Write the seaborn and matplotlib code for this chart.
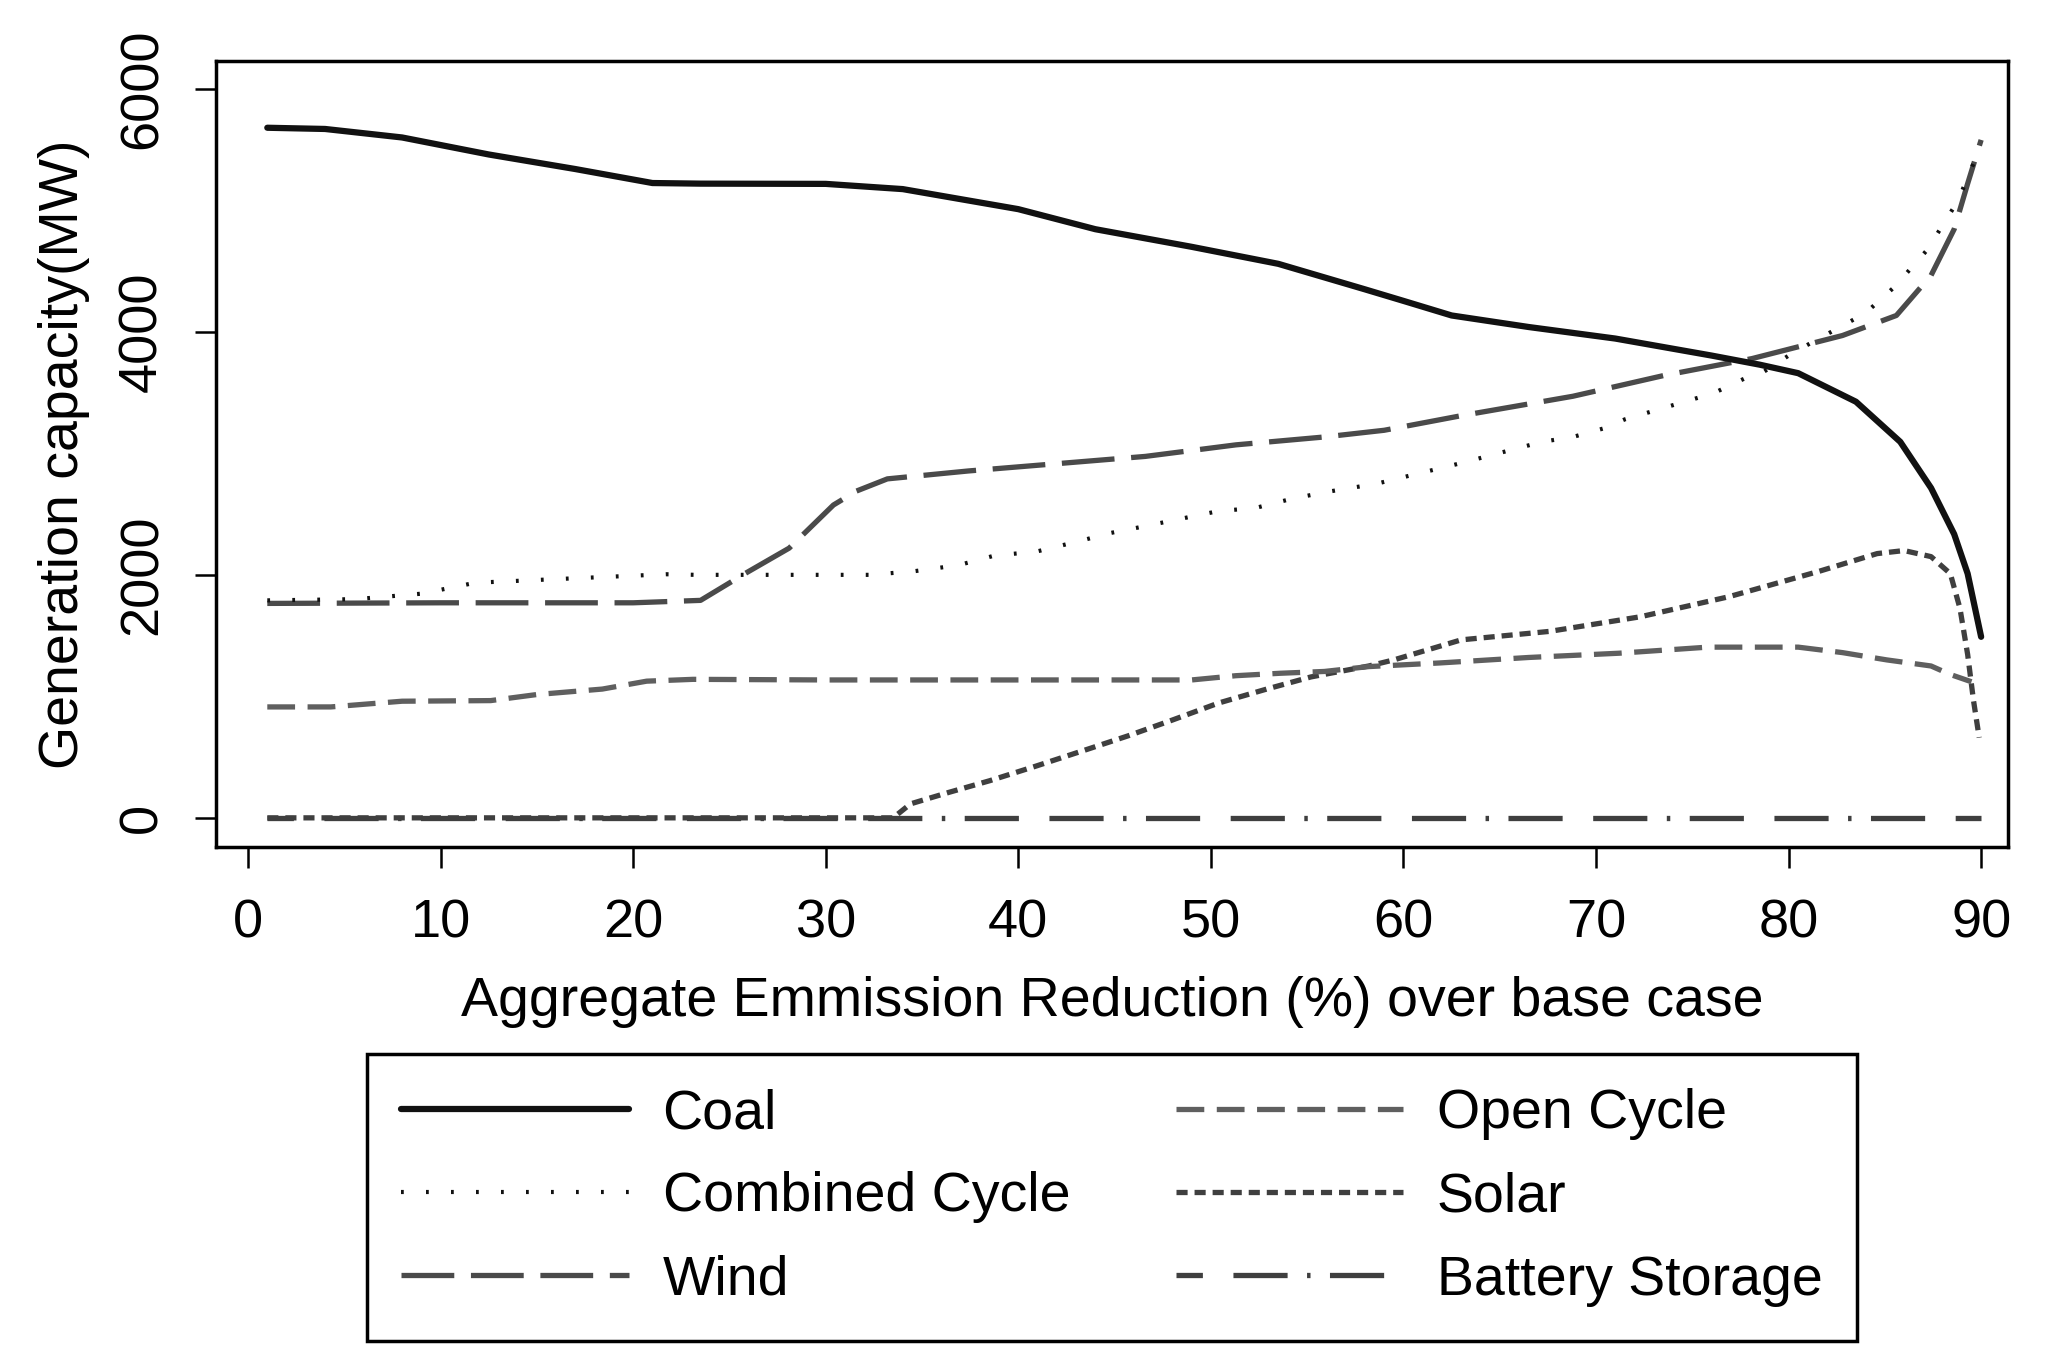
import matplotlib
matplotlib.use('Agg')
import matplotlib.pyplot as plt
import pandas as pd
import seaborn as sns

sns.set_style('ticks')
plt.rcParams['font.family'] = ['Liberation Sans', 'DejaVu Sans']
plt.rcParams['lines.scale_dashes'] = False
plt.rcParams['text.color'] = 'black'
plt.rcParams['xtick.color'] = 'black'
plt.rcParams['ytick.color'] = 'black'
plt.rcParams['axes.labelcolor'] = 'black'

# values (x = emission reduction %, y = MW)
coal_x = [1, 4, 8, 12.5, 17, 21, 23.5, 30, 34, 40, 44, 49, 53.5, 58, 60, 62.5,
          66.5, 71, 76, 78.5, 80.5, 83.5, 85.8, 87.4, 88.6, 89.3, 90]
coal_y = [5680, 5670, 5600, 5460, 5340, 5225, 5220, 5218, 5175, 5010, 4845, 4700,
          4560, 4350, 4255, 4135, 4040, 3945, 3805, 3730, 3660, 3425, 3095, 2715,
          2335, 2010, 1490]

cc_x = [1, 5.6, 9, 11.8, 16, 21.7, 23.3, 27.4, 32.3, 34.6, 36.9, 38.8, 40.9, 43.1,
        44.8, 46.4, 48.7, 50.4, 52.3, 54.3, 56.3, 58.6, 63, 67.2, 68.8, 70.5, 71.5,
        76.1, 77.7, 78.6, 80.2, 84, 85.5, 87.2, 88.8, 89.6, 90]
cc_y = [1790, 1800, 1845, 1935, 1965, 2005, 2000, 2000, 2000, 2030, 2080, 2160,
        2190, 2275, 2345, 2395, 2470, 2525, 2550, 2630, 2690, 2750, 2920, 3095,
        3135, 3210, 3280, 3495, 3615, 3660, 3825, 4155, 4370, 4675, 5080, 5385, 5550]

wind_x = [1, 10, 20, 23.5, 25.8, 28.1, 30.4, 31.6, 33.2, 37.4, 42, 46.6, 51.3,
          55.9, 59, 63, 68.8, 73.5, 78.1, 82.8, 85.6, 87.4, 88.6, 89.3, 90]
wind_y = [1765, 1770, 1770, 1790, 2010, 2220, 2575, 2690, 2790, 2855, 2915, 2975,
          3070, 3135, 3190, 3310, 3470, 3640, 3780, 3970, 4135, 4465, 4845, 5220, 5580]

oc_x = [1, 4.3, 8, 12.6, 15, 18.4, 20.7, 23.1, 30, 40, 49, 51.3, 53.6, 55.9, 58.2,
        61.9, 66.5, 71.2, 75.8, 80.5, 82.8, 85.1, 87.4, 88.4, 89.5]
oc_y = [913, 913, 960, 965, 1015, 1060, 1125, 1140, 1135, 1135, 1135, 1170, 1190,
        1205, 1245, 1275, 1320, 1355, 1405, 1405, 1360, 1300, 1250, 1180, 1120]

solar_x = [1, 10, 20, 30, 33.5, 34.4, 36.4, 38.5, 40.9, 43.6, 45.7, 48, 50.4, 52.9,
           55.2, 58.2, 59.5, 63, 67.6, 72.3, 76.9, 81.6, 84.6, 86, 87.4, 88.4, 88.9,
           89.3, 89.6, 89.9]
solar_y = [0, 0, 0, 0, 0, 115, 210, 305, 425, 565, 675, 805, 945, 1060, 1160, 1250,
           1300, 1465, 1535, 1655, 1820, 2030, 2175, 2200, 2150, 2010, 1725, 1345,
           970, 660]

batt_x = [1, 90]
batt_y = [0, 0]

series = [
    ('Battery Storage', batt_x, batt_y, '#3f3f3f', 3.8, (20, (39, 22, 39, 14, 2.5, 14))),
    ('Solar', solar_x, solar_y, '#3f3f3f', 3.8, (0, (8, 5))),
    ('Open Cycle', oc_x, oc_y, '#5f5f5f', 3.8, (0, (20, 9))),
    ('Wind', wind_x, wind_y, '#4a4a4a', 3.8, (0, (38, 12))),
    ('Combined Cycle', cc_x, cc_y, '#111111', 3.0, (0, (2, 16))),
    ('Coal', coal_x, coal_y, '#111111', 4.5, '-'),
]

fig = plt.figure(figsize=(20.52, 13.6), dpi=100)
ax = fig.add_axes([0.1053, 0.3772, 0.8733, 0.578])

lines = {}
for name, xs, ys, col, lw, ls in series:
    df = pd.DataFrame({'x': xs, 'y': ys})
    sns.lineplot(data=df, x='x', y='y', ax=ax, color=col, linewidth=lw,
                 linestyle=ls, legend=False)
    ln = ax.get_lines()[-1]
    ln.set_label(name)
    lines[name] = ln

ax.set_xlim(-1.66, 91.4)
ax.set_ylim(-240, 6230)
ax.set_xticks(range(0, 91, 10))
ax.set_yticks([0, 2000, 4000, 6000])
ax.tick_params(axis='both', length=15, width=1.8, labelsize=39, pad=22, color='black')
ax.tick_params(axis='y', labelrotation=90, pad=20)
for lab in ax.get_yticklabels():
    lab.set_va('center')

for sp in ax.spines.values():
    sp.set_visible(True)
    sp.set_linewidth(2.5)
    sp.set_color('black')

ax.set_xlabel('Aggregate Emmission Reduction (%) over base case', fontsize=40, labelpad=20)
ax.set_ylabel('Generation capacity(MW)', fontsize=40, labelpad=20)

order = ['Coal', 'Combined Cycle', 'Wind', 'Open Cycle', 'Solar', 'Battery Storage']
leg = fig.legend([lines[n] for n in order], order, loc='center',
                 bbox_to_anchor=(0.5419, 0.1195), ncol=2, fontsize=40,
                 frameon=True, fancybox=False, edgecolor='black', framealpha=1,
                 handlelength=4.1, handletextpad=0.6, columnspacing=1.9,
                 labelspacing=0.56, borderpad=0.62, borderaxespad=0)
leg.get_frame().set_linewidth(2.5)

fig.savefig('out.png', dpi=100)
